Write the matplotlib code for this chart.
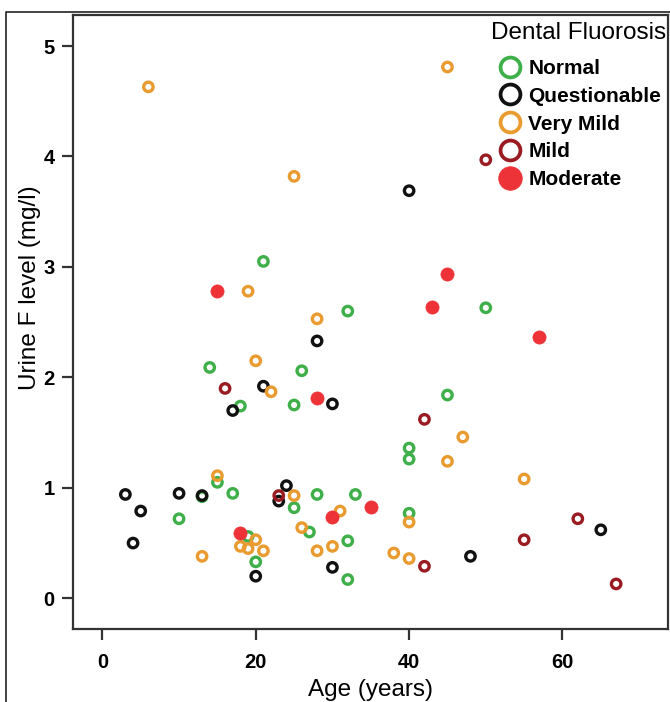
import matplotlib
matplotlib.use('Agg')
import matplotlib.pyplot as plt
from matplotlib.lines import Line2D

plt.rcParams['font.family'] = ['Liberation Sans', 'DejaVu Sans']

categories = ['Normal', 'Questionable', 'Very Mild', 'Mild', 'Moderate']
colors = ['#3fb049', '#111111', '#e99b2f', '#9a1c22', '#ee3338']

normal_age = [21, 32, 50, 14, 26, 18, 25, 45, 40, 40, 15, 17, 10, 28, 25, 27, 33, 32, 20, 32, 19, 40, 13]
normal_f = [3.05, 2.60, 2.63, 2.09, 2.06, 1.74, 1.75, 1.84, 1.36, 1.26, 1.05, 0.95, 0.72, 0.94, 0.82, 0.60, 0.94, 0.52, 0.33, 0.17, 0.56, 0.77, 0.92]

quest_age = [40, 28, 21, 17, 30, 3, 5, 4, 10, 13, 24, 23, 20, 30, 48, 65]
quest_f = [3.69, 2.33, 1.92, 1.70, 1.76, 0.94, 0.79, 0.50, 0.95, 0.93, 1.02, 0.88, 0.20, 0.28, 0.38, 0.62]

vmild_age = [6, 45, 25, 19, 28, 20, 22, 15, 47, 45, 55, 25, 31, 26, 40, 13, 18, 19, 20, 21, 28, 30, 38, 40]
vmild_f = [4.63, 4.81, 3.82, 2.78, 2.53, 2.15, 1.87, 1.11, 1.46, 1.24, 1.08, 0.93, 0.79, 0.64, 0.69, 0.38, 0.47, 0.45, 0.53, 0.43, 0.43, 0.47, 0.41, 0.36]

mild_age = [50, 16, 42, 23, 42, 55, 62, 67]
mild_f = [3.97, 1.90, 1.62, 0.93, 0.29, 0.53, 0.72, 0.13]

moderate_age = [15, 28, 45, 43, 57, 18, 30, 35]
moderate_f = [2.78, 1.81, 2.94, 2.64, 2.37, 0.59, 0.74, 0.83]

x_ticks = [0, 20, 40, 60]
y_ticks = [0, 1, 2, 3, 4, 5]

W, H = 670, 702
fig = plt.figure(figsize=(W / 100, H / 100), dpi=100)
ax = fig.add_axes([72.7 / W, 1 - 629 / H, (668.3 - 72.7) / W, (629 - 15.3) / H])

series = [(normal_age, normal_f), (quest_age, quest_f), (vmild_age, vmild_f),
          (mild_age, mild_f), (moderate_age, moderate_f)]
for i, ((xs, ys), c) in enumerate(zip(series, colors)):
    if categories[i] == 'Moderate':
        ax.scatter(xs, ys, s=90, facecolor=c, edgecolor=c, linewidths=0.5, zorder=3 + i)
    else:
        ax.scatter(xs, ys, s=46, facecolor='none', edgecolor=c, linewidths=2.4, zorder=3 + i)

ax.set_xlim(-3.87, 73.8)
ax.set_ylim(-0.278, 5.278)
ax.set_xticks(x_ticks)
ax.set_yticks(y_ticks)
ax.set_xticklabels([str(v) for v in x_ticks], fontsize=14.5, fontweight='bold')
ax.set_yticklabels([str(v) for v in y_ticks], fontsize=14.5, fontweight='bold')
ax.tick_params(axis='both', direction='out', width=1.6, color='#333333', length=8)
ax.tick_params(axis='x', pad=9)
ax.tick_params(axis='y', pad=5)
for sp in ax.spines.values():
    sp.set_linewidth(1.6)
    sp.set_color('#333333')

ax.set_xlabel('Age (years)', fontsize=17.5, va='center')
ax.set_ylabel('Urine F level (mg/l)', fontsize=17.5, va='center')
ax.xaxis.set_label_coords(0.5, -(690 - 629) / 613.7)
ax.yaxis.set_label_coords((30 - 72.7) / 595.6, (629 - 288) / 613.7)

handles = []
for cat, c in zip(categories, colors):
    if cat == 'Moderate':
        h = Line2D([], [], linestyle='none', marker='o', markersize=17,
                   markerfacecolor=c, markeredgecolor=c, markeredgewidth=0.5)
    else:
        h = Line2D([], [], linestyle='none', marker='o', markersize=14.3,
                   markerfacecolor='none', markeredgecolor=c, markeredgewidth=2.7)
    handles.append(h)

leg = fig.legend(handles, categories, loc='upper left',
                 bbox_to_anchor=(491 / W, 1 - 59 / H), frameon=False,
                 borderpad=0, borderaxespad=0,
                 handlelength=1.8, handletextpad=0.0, labelspacing=0.42,
                 prop={'size': 15, 'weight': 'bold'})
fig.text(491 / W, 1 - 33 / H, 'Dental Fluorosis', fontsize=17.5,
         ha='left', va='center')

# outer frame
fig.add_artist(Line2D([6 / W, 6 / W, 1.0], [0.0, 1 - 12 / H, 1 - 12 / H],
                      transform=fig.transFigure, color='#222222', linewidth=1.2))

fig.savefig('out.png', dpi=100)
